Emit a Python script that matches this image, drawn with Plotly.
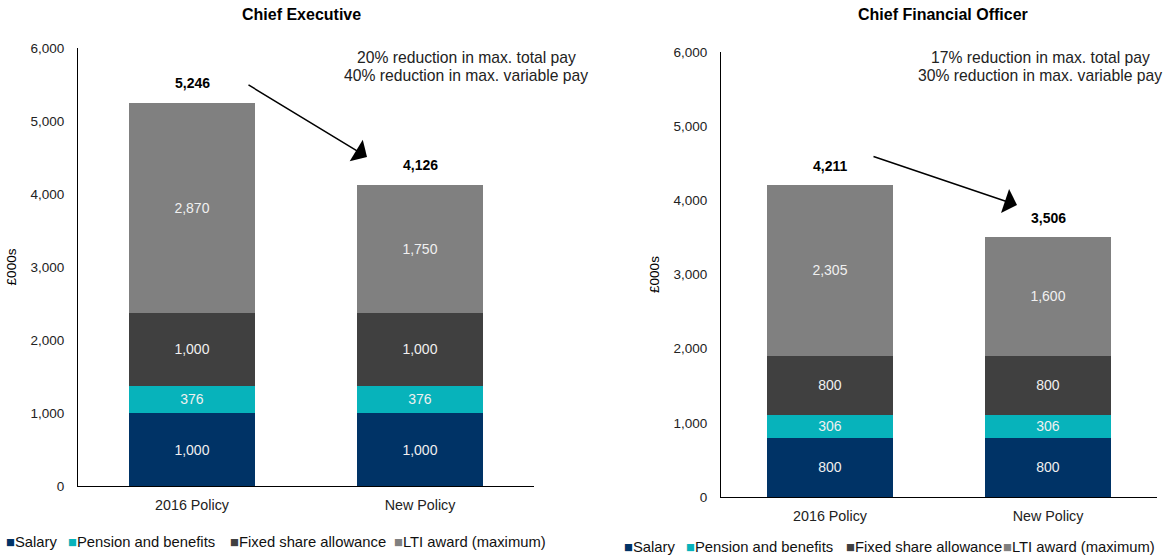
import plotly.graph_objects as go

categories = ["2016 Policy", "New Policy"]
series_names = ["Salary", "Pension and benefits", "Fixed share allowance", "LTI award (maximum)"]
colors = ["#003366", "#07B3BB", "#404040", "#808080"]

ceo_salary = [1000, 1000]
ceo_pension = [376, 376]
ceo_fixed = [1000, 1000]
ceo_lti = [2870, 1750]
ceo_totals = [5246, 4126]

cfo_salary = [800, 800]
cfo_pension = [306, 306]
cfo_fixed = [800, 800]
cfo_lti = [2305, 1600]
cfo_totals = [4211, 3506]

FONT = "Liberation Sans, Arial, sans-serif"
W, H = 1173, 558

fig = go.Figure()

def add_stack(vals_list, xa, ya, width):
    for name, vals, col in zip(series_names, vals_list, colors):
        fig.add_trace(go.Bar(
            x=categories, y=vals, name=name, marker=dict(color=col, line=dict(width=0)),
            xaxis=xa, yaxis=ya, width=width, showlegend=False,
            text=[f"{v:,}" for v in vals], textposition="inside", insidetextanchor="middle",
            textfont=dict(color="#F0F0F0", size=14, family=FONT),
            constraintext="none",
        ))

add_stack([ceo_salary, ceo_pension, ceo_fixed, ceo_lti], "x", "y", 0.55)
add_stack([cfo_salary, cfo_pension, cfo_fixed, cfo_lti], "x2", "y2", 0.58)

def px_x(p):
    return p / W

def px_y(p):
    return 1 - p / H

axis_common = dict(showgrid=False, zeroline=False, showline=True, linecolor="black", linewidth=1,
                   ticks="", automargin=False)
ytick = dict(size=13.5, family=FONT, color="#222")
xtick = dict(size=14.3, family=FONT, color="#222")

fig.update_layout(
    width=W, height=H, barmode="stack",
    paper_bgcolor="white", plot_bgcolor="white",
    margin=dict(l=0, r=0, t=0, b=0),
    font=dict(family=FONT, size=13, color="black"),
    showlegend=False,
    xaxis=dict(domain=[px_x(78), px_x(534)], anchor="y", ticklabelstandoff=6, tickfont=xtick, **axis_common),
    yaxis=dict(domain=[px_y(486), px_y(48)], range=[0, 6000], dtick=1000, tickformat=",",
               ticklabelstandoff=10, tickfont=ytick,
               title=dict(text="£000s", font=dict(size=13.5, family=FONT), standoff=10), anchor="x", **axis_common),
    xaxis2=dict(domain=[px_x(721), px_x(1157)], anchor="y2", ticklabelstandoff=6, tickfont=xtick, **axis_common),
    yaxis2=dict(domain=[px_y(497), px_y(52)], range=[0, 6000], dtick=1000, tickformat=",",
                ticklabelstandoff=10, tickfont=ytick,
                title=dict(text="£000s", font=dict(size=13.5, family=FONT), standoff=10), anchor="x2", **axis_common),
)

ann = []
def txt(text, x, y, size, xanchor="center", color="black"):
    ann.append(dict(text=text, x=px_x(x), y=px_y(y), xref="paper", yref="paper",
                    xanchor=xanchor, yanchor="middle", showarrow=False,
                    font=dict(size=size, family=FONT, color=color)))

txt("<b>Chief Executive</b>", 301, 15, 16)
txt("<b>Chief Financial Officer</b>", 943, 15, 16)
txt("20% reduction in max. total pay", 466, 58, 15.7, color="#222")
txt("40% reduction in max. variable pay", 466, 75, 15.7, color="#222")
txt("17% reduction in max. total pay", 1040, 57, 15.7, color="#222")
txt("30% reduction in max. variable pay", 1040, 75, 15.7, color="#222")

for cat, tot in zip(categories, ceo_totals):
    ann.append(dict(text=f"<b>{tot:,}</b>", x=cat, y=tot, xref="x", yref="y", yshift=20,
                    showarrow=False, font=dict(size=14, family=FONT)))
for cat, tot in zip(categories, cfo_totals):
    ann.append(dict(text=f"<b>{tot:,}</b>", x=cat, y=tot, xref="x2", yref="y2", yshift=19,
                    showarrow=False, font=dict(size=14, family=FONT)))

# arrows: head position in paper coords, tail offset in pixels
def arrow(x0, y0, x1, y1):
    ann.append(dict(x=px_x(x1), y=px_y(y1), ax=x0 - x1, ay=y0 - y1, xref="paper", yref="paper",
                    axref="pixel", ayref="pixel", showarrow=True, arrowhead=1, arrowsize=2.8,
                    arrowwidth=1.5, arrowcolor="black", text=""))
arrow(247, 84, 367, 157)
arrow(872, 156, 1017, 205)

# legends (one per chart)
left_leg = [(4, 542), (66, 542), (228, 542), (392, 542)]
right_leg = [(622, 547), (684, 547), (844, 547), (1001, 547)]
for positions in (left_leg, right_leg):
    for (lx, ly), name, col in zip(positions, series_names, colors):
        txt(f"<span style='color:{col}'>■</span>{name}", lx, ly, 14.8, xanchor="left", color="#111")

fig.update_layout(annotations=ann)

fig.write_html("out.html", config={"displayModeBar": False},
               post_script="document.body.style.margin='0px';document.body.style.padding='0px';")
